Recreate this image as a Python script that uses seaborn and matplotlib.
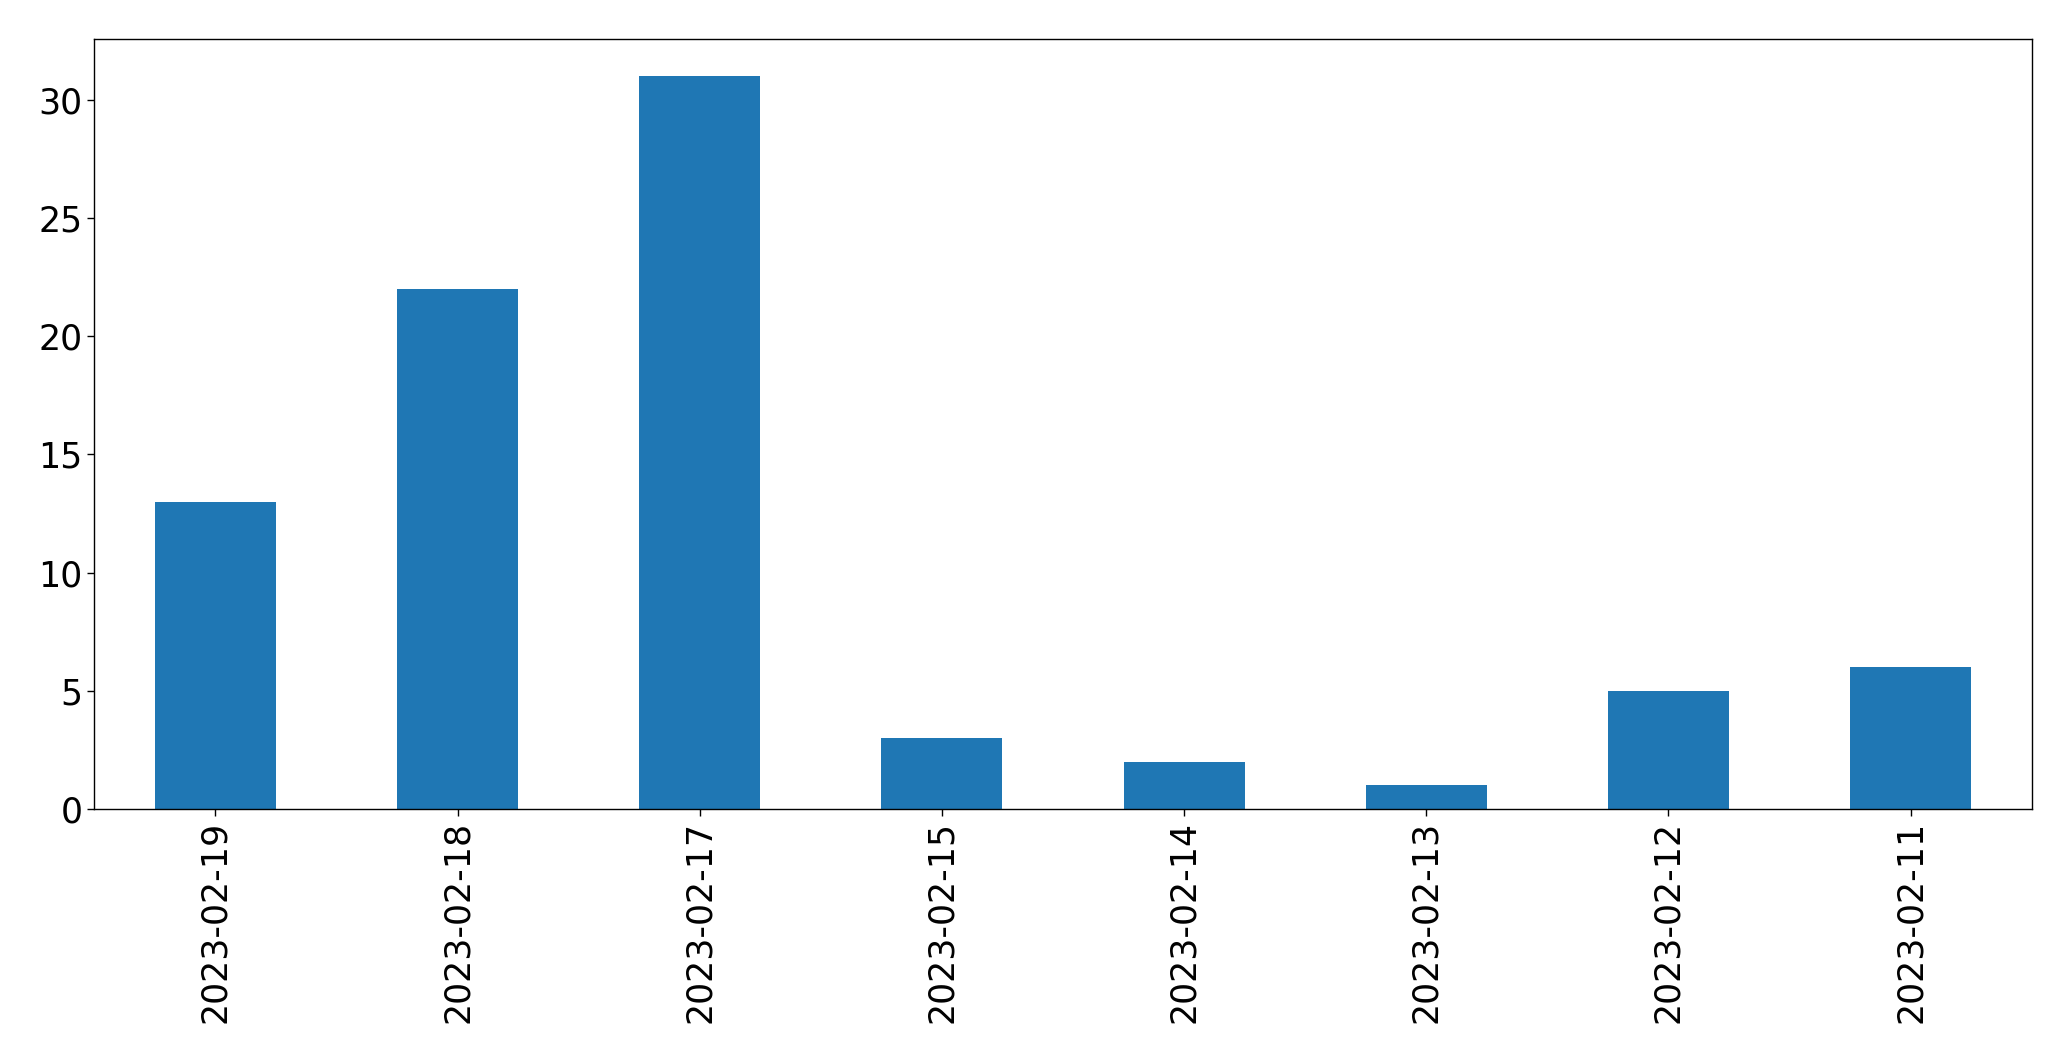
import matplotlib
matplotlib.use("Agg")
from matplotlib import pyplot as plt
import seaborn as sns
import pandas as pd

# data
dates = ["2023-02-19", "2023-02-18", "2023-02-17", "2023-02-15",
         "2023-02-14", "2023-02-13", "2023-02-12", "2023-02-11"]
counts = [13, 22, 31, 3, 2, 1, 5, 6]

df = pd.DataFrame({"date": dates, "count": counts})

sns.set_style("ticks")
plt.rcParams['font.family'] = ['DejaVu Sans']
plt.rcParams['text.color'] = 'black'
plt.rcParams['xtick.color'] = 'black'
plt.rcParams['ytick.color'] = 'black'
plt.rcParams['axes.edgecolor'] = 'black'

fig, ax = plt.subplots(figsize=(20.71, 10.61), dpi=100)
fig.subplots_adjust(left=94.3 / 2071, right=2031.7 / 2071, top=1 - 39.3 / 1061, bottom=1 - 809 / 1061)

sns.barplot(data=df, x="date", y="count", order=dates, color="#1f77b4",
            saturation=1, width=0.5, linewidth=0, ax=ax)

ax.set_xlim(-0.5, len(dates) - 0.5)
ax.set_ylim(0, max(counts) * 1.05)
ax.set_xlabel("")
ax.set_ylabel("")
ax.tick_params(axis="both", labelsize=25, length=4.9, width=1,
               color="black", labelcolor="black")
ax.tick_params(axis="x", rotation=90)
for side in ax.spines.values():
    side.set_visible(True)
    side.set_linewidth(1)
    side.set_color("black")

plt.savefig("out.png", dpi=100)
